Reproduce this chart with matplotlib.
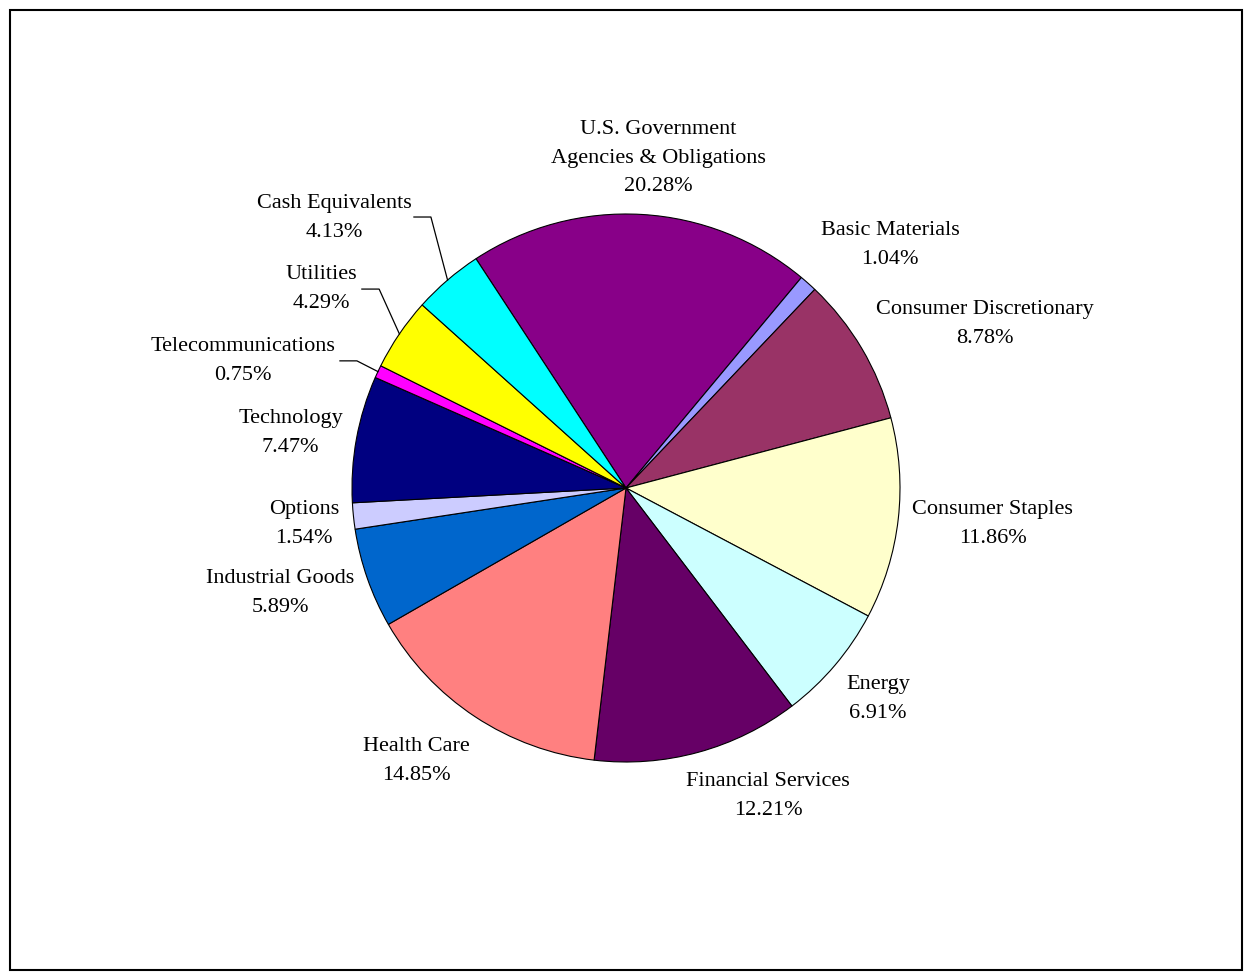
#!/usr/bin/env python3
"""
Portfolio sector allocation pie chart.
"""

import matplotlib
matplotlib.use("Agg")
import matplotlib.pyplot as plt
from matplotlib.patches import Rectangle
import numpy as np

# Data
SECTORS = [
    "U.S. Government\nAgencies & Obligations",
    "Basic Materials",
    "Consumer Discretionary",
    "Consumer Staples",
    "Energy",
    "Financial Services",
    "Health Care",
    "Industrial Goods",
    "Options",
    "Technology",
    "Telecommunications",
    "Utilities",
    "Cash Equivalents",
]
WEIGHTS = [20.28, 1.04, 8.78, 11.86, 6.91, 12.21, 14.85, 5.89, 1.54, 7.47, 0.75, 4.29, 4.13]
COLORS = ["#880088", "#9999FF", "#993366", "#FFFFCC", "#CCFFFF", "#660066",
          "#FF8080", "#0066CC", "#CCCCFF", "#000080", "#FF00FF", "#FFFF00", "#00FFFF"]

# Label centres (in pie radius units)
LABEL_POS = [
    (0.117, 1.204), (0.964, 0.887), (1.310, 0.599), (1.339, -0.131),
    (0.920, -0.770), (0.518, -1.124), (-0.766, -0.996), (-1.263, -0.383),
    (-1.175, -0.131), (-1.224, 0.201), (-1.398, 0.464), (-1.113, 0.726),
    (-1.066, 0.985),
]
# Leader lines: sector index -> (start, elbow)
LEADERS = {
    12: ((-0.774, 0.989), (-0.712, 0.989)),
    11: ((-0.964, 0.726), (-0.901, 0.726)),
    10: ((-1.044, 0.464), (-0.982, 0.464)),
}

START_ANGLE = 123.2
CX, CY, R = 626, 488, 274
W, H = 1253, 980

plt.rcParams['font.family'] = ['Liberation Serif', 'DejaVu Serif']

fig = plt.figure(figsize=(W / 100, H / 100), dpi=100)
ax = fig.add_axes([0, 0, 1, 1])

wedges, _ = ax.pie(WEIGHTS, colors=COLORS, startangle=START_ANGLE, counterclock=False,
                   radius=1, wedgeprops=dict(edgecolor='black', linewidth=0.8))

for name, val, (x, y) in zip(SECTORS, WEIGHTS, LABEL_POS):
    ax.text(x, y, f"{name}\n{val:.2f}%", ha='center', va='center',
            multialignment='center', fontsize=16, linespacing=1.68)

# Leader lines to the slice mid-angles
for idx, (p0, p1) in LEADERS.items():
    w = wedges[idx]
    mid = np.deg2rad((w.theta1 + w.theta2) / 2)
    ax.plot([p0[0], p1[0], np.cos(mid)], [p0[1], p1[1], np.sin(mid)],
            color='black', linewidth=0.9)

ax.set_xlim(-CX / R, (W - CX) / R)
ax.set_ylim(-(H - CY) / R, CY / R)
ax.set_aspect('auto')
ax.axis('off')

# Frame around the chart
fig.patches.append(Rectangle((10 / W, 10 / H), 1232 / W, 960 / H, transform=fig.transFigure,
                             fill=False, edgecolor='black', linewidth=1.5))

fig.savefig("out.png", dpi=100)
